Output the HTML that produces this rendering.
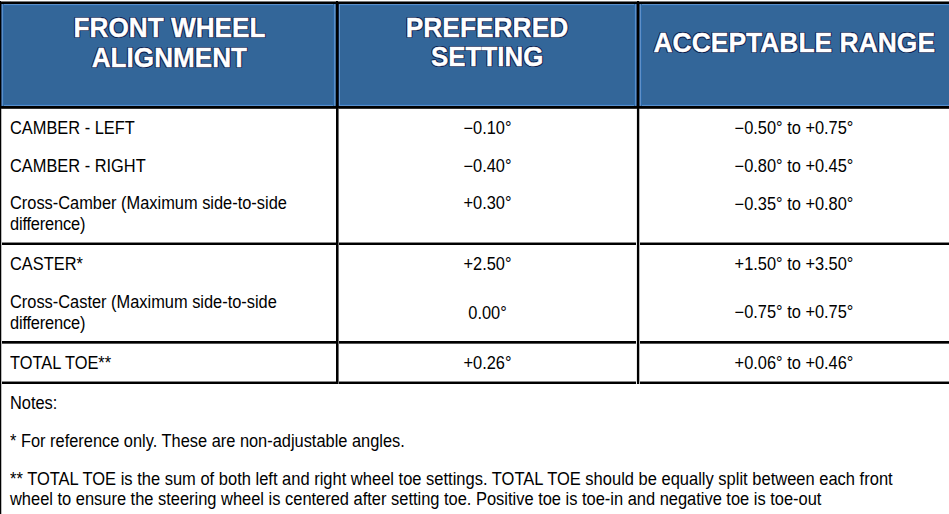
<!DOCTYPE html>
<html><head><meta charset="utf-8"><style>
html,body{margin:0;padding:0;background:#fff;}
body{width:949px;height:514px;overflow:hidden;position:relative;font-family:"Liberation Sans",sans-serif;}
.t{position:absolute;white-space:pre;line-height:1;}
.r{position:absolute;}
</style></head><body>
<div class="r" style="left:1px;top:4px;width:948px;height:102px;background:#336699"></div>
<div class="r" style="left:2px;top:4px;width:334px;height:1px;background:#5a8ec8"></div>
<div class="r" style="left:2px;top:5px;width:334px;height:1px;background:#2e6aa8"></div>
<div class="r" style="left:2px;top:105px;width:334px;height:1px;background:#5a8ec8"></div>
<div class="r" style="left:2px;top:104px;width:334px;height:1px;background:#2e6aa8"></div>
<div class="r" style="left:339px;top:4px;width:298px;height:1px;background:#5a8ec8"></div>
<div class="r" style="left:339px;top:5px;width:298px;height:1px;background:#2e6aa8"></div>
<div class="r" style="left:339px;top:105px;width:298px;height:1px;background:#5a8ec8"></div>
<div class="r" style="left:339px;top:104px;width:298px;height:1px;background:#2e6aa8"></div>
<div class="r" style="left:640px;top:4px;width:310px;height:1px;background:#5a8ec8"></div>
<div class="r" style="left:640px;top:5px;width:310px;height:1px;background:#2e6aa8"></div>
<div class="r" style="left:640px;top:105px;width:310px;height:1px;background:#5a8ec8"></div>
<div class="r" style="left:640px;top:104px;width:310px;height:1px;background:#2e6aa8"></div>
<div class="r" style="left:1px;top:4px;width:1px;height:102px;background:#2f4f78"></div>
<div class="r" style="left:2px;top:4px;width:1px;height:102px;background:#5a8ec8"></div>
<div class="r" style="left:3px;top:4px;width:1px;height:102px;background:#2e6aa8"></div>
<div class="r" style="left:333px;top:4px;width:1px;height:102px;background:#2e6aa8"></div>
<div class="r" style="left:334px;top:4px;width:1px;height:102px;background:#5a8ec8"></div>
<div class="r" style="left:335px;top:4px;width:1px;height:102px;background:#3f6a95"></div>
<div class="r" style="left:338px;top:4px;width:1px;height:102px;background:#0a2040"></div>
<div class="r" style="left:339px;top:4px;width:1px;height:102px;background:#6596cc"></div>
<div class="r" style="left:634px;top:4px;width:1px;height:102px;background:#2e6aa8"></div>
<div class="r" style="left:635px;top:4px;width:1px;height:102px;background:#5a8ec8"></div>
<div class="r" style="left:636px;top:4px;width:1px;height:102px;background:#30507a"></div>
<div class="r" style="left:639px;top:4px;width:1px;height:102px;background:#2a4a70"></div>
<div class="r" style="left:640px;top:4px;width:1px;height:102px;background:#6090c8"></div>
<div class="r" style="left:641px;top:4px;width:1px;height:102px;background:#2e6aa8"></div>
<div class="r" style="left:0px;top:1px;width:949px;height:1px;background:#777"></div>
<div class="r" style="left:0px;top:2px;width:949px;height:2px;background:#000"></div>
<div class="r" style="left:0px;top:106px;width:949px;height:2px;background:#000"></div>
<div class="r" style="left:0px;top:108px;width:949px;height:1px;background:#333"></div>
<div class="r" style="left:0px;top:242px;width:949px;height:1px;background:#888"></div>
<div class="r" style="left:0px;top:243px;width:949px;height:2px;background:#000"></div>
<div class="r" style="left:0px;top:341px;width:949px;height:2px;background:#000"></div>
<div class="r" style="left:0px;top:343px;width:949px;height:1px;background:#555"></div>
<div class="r" style="left:0px;top:381px;width:949px;height:1px;background:#888"></div>
<div class="r" style="left:0px;top:382px;width:949px;height:2px;background:#000"></div>
<div class="r" style="left:1px;top:109px;width:1px;height:405px;background:#bbb"></div>
<div class="r" style="left:0px;top:1px;width:1px;height:513px;background:#000"></div>
<div class="r" style="left:338px;top:109px;width:1px;height:275px;background:#707070"></div>
<div class="r" style="left:336px;top:1px;width:2px;height:383px;background:#000"></div>
<div class="r" style="left:636px;top:109px;width:1px;height:275px;background:#e8e8e8"></div>
<div class="r" style="left:639px;top:109px;width:1px;height:275px;background:#b8b8b8"></div>
<div class="r" style="left:637px;top:1px;width:2px;height:383px;background:#000"></div>
<div class="t" style="left:-230.5px;width:800px;text-align:center;top:14.82px;font-size:26.2px;font-weight:bold;color:#fff;transform-origin:50% 22.18px;transform:scaleY(1.05);-webkit-text-stroke:0.35px #fff;text-shadow:1px 0 0 #0a1c4a,-1px 0 0 #0a1c4a,0 1px 0 #0a1c4a,0 -1px 0 #0a1c4a,1px 1px 0.4px rgba(10,28,74,.7),-1px -1px 0.4px rgba(10,28,74,.7),1px -1px 0.4px rgba(10,28,74,.7),-1px 1px 0.4px rgba(10,28,74,.7);">FRONT WHEEL</div>
<div class="t" style="left:-230.6px;width:800px;text-align:center;top:44.86px;font-size:26.15px;font-weight:bold;color:#fff;transform-origin:50% 22.14px;transform:scaleY(1.05);-webkit-text-stroke:0.35px #fff;text-shadow:1px 0 0 #0a1c4a,-1px 0 0 #0a1c4a,0 1px 0 #0a1c4a,0 -1px 0 #0a1c4a,1px 1px 0.4px rgba(10,28,74,.7),-1px -1px 0.4px rgba(10,28,74,.7),1px -1px 0.4px rgba(10,28,74,.7),-1px 1px 0.4px rgba(10,28,74,.7);">ALIGNMENT</div>
<div class="t" style="left:87.0px;width:800px;text-align:center;top:14.69px;font-size:26.35px;font-weight:bold;color:#fff;transform-origin:50% 22.31px;transform:scaleY(1.05);-webkit-text-stroke:0.35px #fff;text-shadow:1px 0 0 #0a1c4a,-1px 0 0 #0a1c4a,0 1px 0 #0a1c4a,0 -1px 0 #0a1c4a,1px 1px 0.4px rgba(10,28,74,.7),-1px -1px 0.4px rgba(10,28,74,.7),1px -1px 0.4px rgba(10,28,74,.7),-1px 1px 0.4px rgba(10,28,74,.7);">PREFERRED</div>
<div class="t" style="left:87.19999999999999px;width:800px;text-align:center;top:45.07px;font-size:25.9px;font-weight:bold;color:#fff;transform-origin:50% 21.93px;transform:scaleY(1.05);-webkit-text-stroke:0.35px #fff;text-shadow:1px 0 0 #0a1c4a,-1px 0 0 #0a1c4a,0 1px 0 #0a1c4a,0 -1px 0 #0a1c4a,1px 1px 0.4px rgba(10,28,74,.7),-1px -1px 0.4px rgba(10,28,74,.7),1px -1px 0.4px rgba(10,28,74,.7),-1px 1px 0.4px rgba(10,28,74,.7);">SETTING</div>
<div class="t" style="left:394.29999999999995px;width:800px;text-align:center;top:29.61px;font-size:26.45px;font-weight:bold;color:#fff;transform-origin:50% 22.39px;transform:scaleY(1.05);-webkit-text-stroke:0.35px #fff;text-shadow:1px 0 0 #0a1c4a,-1px 0 0 #0a1c4a,0 1px 0 #0a1c4a,0 -1px 0 #0a1c4a,1px 1px 0.4px rgba(10,28,74,.7),-1px -1px 0.4px rgba(10,28,74,.7),1px -1px 0.4px rgba(10,28,74,.7),-1px 1px 0.4px rgba(10,28,74,.7);">ACCEPTABLE RANGE</div>
<div class="t" style="left:10px;top:119.71px;font-size:16.4px;font-weight:normal;color:#000;transform-origin:50% 13.89px;transform:scaleY(1.08);">CAMBER - LEFT</div>
<div class="t" style="left:10px;top:157.61px;font-size:16.4px;font-weight:normal;color:#000;transform-origin:50% 13.89px;transform:scaleY(1.08);">CAMBER - RIGHT</div>
<div class="t" style="left:10px;top:195.21px;font-size:16.4px;font-weight:normal;color:#000;transform-origin:50% 13.89px;transform:scaleY(1.08);">Cross-Camber (Maximum side-to-side</div>
<div class="t" style="left:10px;top:215.51px;font-size:16.4px;font-weight:normal;color:#000;transform-origin:50% 13.89px;transform:scaleY(1.08);letter-spacing:-0.18px;">difference)</div>
<div class="t" style="left:10px;top:256.31px;font-size:16.4px;font-weight:normal;color:#000;transform-origin:50% 13.89px;transform:scaleY(1.08);">CASTER*</div>
<div class="t" style="left:10px;top:294.41px;font-size:16.4px;font-weight:normal;color:#000;transform-origin:50% 13.89px;transform:scaleY(1.08);">Cross-Caster (Maximum side-to-side</div>
<div class="t" style="left:10px;top:314.51px;font-size:16.4px;font-weight:normal;color:#000;transform-origin:50% 13.89px;transform:scaleY(1.08);letter-spacing:-0.18px;">difference)</div>
<div class="t" style="left:10px;top:354.81px;font-size:16.4px;font-weight:normal;color:#000;transform-origin:50% 13.89px;transform:scaleY(1.08);">TOTAL TOE**</div>
<div class="t" style="left:87.5px;width:800px;text-align:center;top:119.71px;font-size:16.4px;font-weight:normal;color:#000;transform-origin:50% 13.89px;transform:scaleY(1.08);">−0.10°</div>
<div class="t" style="left:87.5px;width:800px;text-align:center;top:157.61px;font-size:16.4px;font-weight:normal;color:#000;transform-origin:50% 13.89px;transform:scaleY(1.08);">−0.40°</div>
<div class="t" style="left:87.5px;width:800px;text-align:center;top:195.41px;font-size:16.4px;font-weight:normal;color:#000;transform-origin:50% 13.89px;transform:scaleY(1.08);">+0.30°</div>
<div class="t" style="left:87.5px;width:800px;text-align:center;top:256.31px;font-size:16.4px;font-weight:normal;color:#000;transform-origin:50% 13.89px;transform:scaleY(1.08);">+2.50°</div>
<div class="t" style="left:87.5px;width:800px;text-align:center;top:304.51px;font-size:16.4px;font-weight:normal;color:#000;transform-origin:50% 13.89px;transform:scaleY(1.08);">0.00°</div>
<div class="t" style="left:87.5px;width:800px;text-align:center;top:354.81px;font-size:16.4px;font-weight:normal;color:#000;transform-origin:50% 13.89px;transform:scaleY(1.08);">+0.26°</div>
<div class="t" style="left:394px;width:800px;text-align:center;top:119.71px;font-size:16.4px;font-weight:normal;color:#000;transform-origin:50% 13.89px;transform:scaleY(1.08);">−0.50° to +0.75°</div>
<div class="t" style="left:394px;width:800px;text-align:center;top:157.91px;font-size:16.4px;font-weight:normal;color:#000;transform-origin:50% 13.89px;transform:scaleY(1.08);">−0.80° to +0.45°</div>
<div class="t" style="left:394px;width:800px;text-align:center;top:195.61px;font-size:16.4px;font-weight:normal;color:#000;transform-origin:50% 13.89px;transform:scaleY(1.08);">−0.35° to +0.80°</div>
<div class="t" style="left:394px;width:800px;text-align:center;top:256.31px;font-size:16.4px;font-weight:normal;color:#000;transform-origin:50% 13.89px;transform:scaleY(1.08);">+1.50° to +3.50°</div>
<div class="t" style="left:394px;width:800px;text-align:center;top:304.41px;font-size:16.4px;font-weight:normal;color:#000;transform-origin:50% 13.89px;transform:scaleY(1.08);">−0.75° to +0.75°</div>
<div class="t" style="left:394px;width:800px;text-align:center;top:354.61px;font-size:16.4px;font-weight:normal;color:#000;transform-origin:50% 13.89px;transform:scaleY(1.08);">+0.06° to +0.46°</div>
<div class="t" style="left:10px;top:395.01px;font-size:16.4px;font-weight:normal;color:#000;transform-origin:50% 13.89px;transform:scaleY(1.08);">Notes:</div>
<div class="t" style="left:10px;top:432.91px;font-size:16.4px;font-weight:normal;color:#000;transform-origin:50% 13.89px;transform:scaleY(1.08);">* For reference only. These are non-adjustable angles.</div>
<div class="t" style="left:10px;top:470.73px;font-size:16.5px;font-weight:normal;color:#000;transform-origin:50% 13.97px;transform:scaleY(1.08);">** TOTAL TOE is the sum of both left and right wheel toe settings. TOTAL TOE should be equally split between each front</div>
<div class="t" style="left:10px;top:490.97px;font-size:16.45px;font-weight:normal;color:#000;transform-origin:50% 13.93px;transform:scaleY(1.08);">wheel to ensure the steering wheel is centered after setting toe. Positive toe is toe-in and negative toe is toe-out</div>
</body></html>
